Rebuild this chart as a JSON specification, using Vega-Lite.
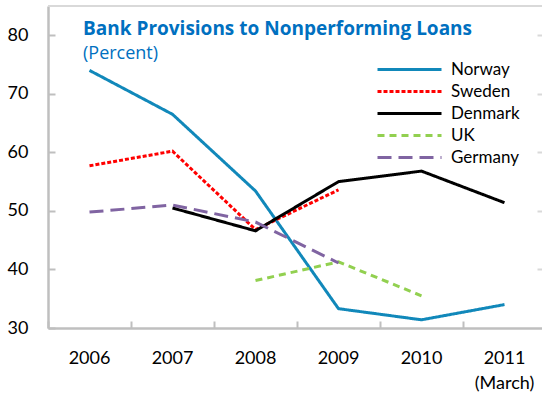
{
  "$schema": "https://vega.github.io/schema/vega-lite/v6.json",
  "autosize": {"type": "none"},
  "width": 494,
  "height": 322,
  "padding": {"left": 48, "top": 6, "right": 0, "bottom": 68},
  "config": {"font": "Lato", "view": {"stroke": null}},
  "title": {
    "text": "Bank Provisions to Nonperforming Loans",
    "subtitle": "(Percent)",
    "anchor": "start",
    "frame": "group",
    "orient": "top",
    "offset": 0,
    "dx": 35,
    "dy": 58,
    "font": "Open Sans",
    "fontSize": 19,
    "fontWeight": "bold",
    "color": "#0070C0",
    "subtitleFont": "Open Sans",
    "subtitleFontSize": 18,
    "subtitleColor": "#0070C0",
    "subtitlePadding": 6
  },
  "data": {
    "values": [
      {"year": "2006", "country": "Norway", "value": 74.0},
      {"year": "2007", "country": "Norway", "value": 66.5},
      {"year": "2008", "country": "Norway", "value": 53.4},
      {"year": "2009", "country": "Norway", "value": 33.3},
      {"year": "2010", "country": "Norway", "value": 31.4},
      {"year": "2011", "country": "Norway", "value": 34.0},
      {"year": "2006", "country": "Sweden", "value": 57.7},
      {"year": "2007", "country": "Sweden", "value": 60.2},
      {"year": "2008", "country": "Sweden", "value": 46.8},
      {"year": "2009", "country": "Sweden", "value": 53.6},
      {"year": "2007", "country": "Denmark", "value": 50.5},
      {"year": "2008", "country": "Denmark", "value": 46.6},
      {"year": "2009", "country": "Denmark", "value": 55.0},
      {"year": "2010", "country": "Denmark", "value": 56.8},
      {"year": "2011", "country": "Denmark", "value": 51.4},
      {"year": "2008", "country": "UK", "value": 38.1},
      {"year": "2009", "country": "UK", "value": 41.3},
      {"year": "2010", "country": "UK", "value": 35.5},
      {"year": "2006", "country": "Germany", "value": 49.8},
      {"year": "2007", "country": "Germany", "value": 51.0},
      {"year": "2008", "country": "Germany", "value": 48.1},
      {"year": "2009", "country": "Germany", "value": 41.1}
    ]
  },
  "resolve": {"axis": {"y": "independent"}},
  "layer": [
    {
      "mark": {"type": "line", "strokeWidth": 3},
      "encoding": {
        "x": {
          "field": "year",
          "type": "ordinal",
          "scale": {"type": "band", "range": [0, 498], "paddingInner": 0, "paddingOuter": 0},
          "axis": {
            "title": null,
            "labelAngle": 0,
            "bandPosition": 0,
            "domainColor": "#BFBFBF",
            "domainWidth": 2.5,
            "tickColor": "#BFBFBF",
            "tickWidth": 2,
            "tickSize": -7,
            "labelPadding": 28,
            "labelFontSize": 18,
            "labelColor": "#000000",
            "labelLineHeight": 25,
            "labelExpr": "datum.value == '2011' ? ['2011', '(March)'] : datum.value"
          }
        },
        "y": {
          "field": "value",
          "type": "quantitative",
          "scale": {"domain": [30, 85], "nice": false, "zero": false},
          "axis": {
            "orient": "left",
            "title": null,
            "values": [30, 40, 50, 60, 70, 80],
            "grid": false,
            "domainColor": "#BFBFBF",
            "domainWidth": 2.5,
            "tickColor": "#BFBFBF",
            "tickWidth": 2,
            "tickSize": -7,
            "labelPadding": 27,
            "labelFontSize": 18,
            "labelColor": "#000000"
          }
        },
        "color": {
          "field": "country",
          "type": "nominal",
          "scale": {
            "domain": ["Norway", "Sweden", "Denmark", "UK", "Germany"],
            "range": ["#1188BA", "#FF0000", "#000000", "#92D050", "#8064A2"]
          },
          "legend": {
            "title": null,
            "orient": "none",
            "legendX": 352,
            "legendY": 54,
            "symbolType": "M-4,0H4",
            "symbolSize": 256,
            "symbolStrokeWidth": 3,
            "labelFontSize": 17,
            "labelColor": "#000000",
            "rowPadding": 4,
            "labelOffset": 32
          }
        },
        "strokeDash": {
          "field": "country",
          "type": "nominal",
          "scale": {
            "domain": ["Norway", "Sweden", "Denmark", "UK", "Germany"],
            "range": [[1, 0], [4, 2], [1, 0], [7, 5], [14, 7]]
          },
          "legend": null
        }
      }
    },
    {
      "mark": {"type": "rule", "color": "#D9D9D9", "strokeWidth": 2},
      "encoding": {"y": {"datum": 85, "type": "quantitative", "axis": null}}
    },
    {
      "mark": {"type": "rule", "opacity": 0},
      "encoding": {
        "y": {
          "datum": 50,
          "type": "quantitative",
          "axis": {
            "orient": "right",
            "title": null,
            "labels": false,
            "domain": false,
            "grid": false,
            "values": [40, 50, 60, 70, 80],
            "tickColor": "#D9D9D9",
            "tickWidth": 2,
            "tickSize": -5
          }
        }
      }
    }
  ]
}
